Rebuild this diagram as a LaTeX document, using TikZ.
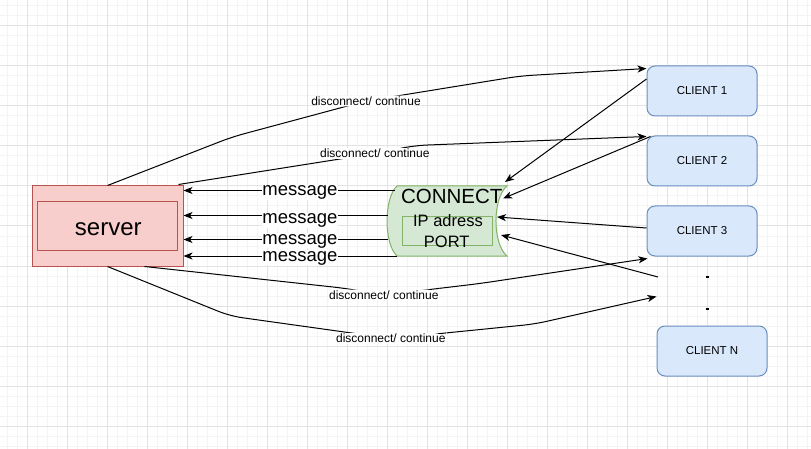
\documentclass[tikz,border=0pt]{standalone}
\usepackage{fontspec}
\setmainfont{Liberation Sans}
\usetikzlibrary{arrows.meta,calc}
\definecolor{gridminor}{HTML}{F4F4F4}
\definecolor{gridmajor}{HTML}{E3E3E3}
\definecolor{redfill}{HTML}{F8CECC}
\definecolor{redline}{HTML}{B85450}
\definecolor{greenfill}{HTML}{D5E8D4}
\definecolor{greenline}{HTML}{82B366}
\definecolor{bluefill}{HTML}{DAE8FC}
\definecolor{blueline}{HTML}{6C8EBF}
\begin{document}
\begin{tikzpicture}[x=1pt,y=-1pt,
  arr/.style={draw=black, line width=1pt, -{Stealth[length=9pt,width=7pt,inset=2.5pt]}},
  curvearr/.style={arr, rounded corners=12pt},
  clientbox/.style={draw=blueline, fill=bluefill, line width=1pt, rounded corners=8pt,
    minimum width=110pt, minimum height=50pt, inner sep=0pt, font=\fontsize{11.5}{13}\selectfont},
  msglabel/.style={fill=white, inner sep=0.6pt, anchor=base, font=\fontsize{18.5}{20}\selectfont},
  edgelabel/.style={fill=white, inner sep=1pt, font=\fontsize{12}{14}\selectfont},
  gridminorline/.style={draw=gridminor, line width=1pt},
  gridmajorline/.style={draw=gridmajor, line width=1pt},
]
\useasboundingbox (0,0) rectangle (811,449);
\fill[white] (0,0) rectangle (811,449);
% grid
\foreach \x in {7,17,...,807} \draw[gridminorline] (\x,0) -- (\x,449);
\foreach \y in {6,16,...,446} \draw[gridminorline] (0,\y) -- (811,\y);
\foreach \x in {27,67,...,787} \draw[gridmajorline] (\x,0) -- (\x,449);
\foreach \y in {26,66,...,426} \draw[gridmajorline] (0,\y) -- (811,\y);

% server
\node[draw=redline, fill=redfill, line width=1pt, minimum width=151pt, minimum height=80pt, inner sep=0pt] (server) at (107.5,226) {};
\node[draw=redline, line width=1pt, minimum width=140pt, minimum height=49pt, inner sep=0pt] (serverinner) at (107.3,226.3) {};
\node[anchor=base, inner sep=0pt, font=\fontsize{24}{28}\selectfont] (servertext) at (108.3,236) {server};

% connect shape
\node[minimum width=120pt, minimum height=70pt, inner sep=0pt] (connect) at (447,221) {};
\draw[draw=greenline, fill=greenfill, line width=1pt]
  (397,186) -- (507,186) .. controls (492.3,198) and (492.3,244) .. (507,256)
  -- (397,256) .. controls (383.7,244) and (383.7,198) .. (397,186) -- cycle;
\node[draw=greenline, line width=1pt, minimum width=90.4pt, minimum height=29.3pt, inner sep=0pt] (connectinner) at (447.5,231.3) {};
\node[anchor=base, inner sep=0pt, font=\fontsize{20.5}{24}\selectfont] (connecttext) at (451.7,204) {CONNECT};
\node[anchor=base, inner sep=0pt, font=\fontsize{16.5}{20}\selectfont] (iptext) at (448,226.7) {IP adress};
\node[anchor=base, inner sep=0pt, font=\fontsize{16.5}{20}\selectfont] (porttext) at (446.7,247.7) {PORT};

% clients
\node[clientbox] (c1) at (702,91) {CLIENT 1};
\node[clientbox] (c2) at (702,161) {CLIENT 2};
\node[clientbox] (c3) at (702,231) {CLIENT 3};
\node[clientbox] (cn) at (712,351) {CLIENT N};
\fill (706.3,275.8) rectangle +(2.6,2.6);
\fill (706.3,307.8) rectangle +(2.6,2.6);
\coordinate (dotsA) at (658,277);
\coordinate (dotsB) at (656.5,296.5);

% message arrows
\coordinate (m1) at ($(connect.west)+(8,-30.5)$);
\coordinate (m2) at ($(connect.west)+(1,-5.5)$);
\coordinate (m3) at ($(connect.west)+(1,18.5)$);
\coordinate (m4) at ($(connect.west)+(10,35)$);
\draw[arr] (m1) -- (server.east |- m1);
\draw[arr] (m2) -- (server.east |- m2);
\draw[arr] (m3) -- (server.east |- m3);
\draw[arr] (m4) -- (server.east |- m4);
\node[msglabel] (ml1) at (300,195.7) {message};
\node[msglabel] (ml2) at (300,223.3) {message};
\node[msglabel] (ml3) at (300,244) {message};
\node[msglabel] (ml4) at (300,261) {message};

% server -> clients
\draw[curvearr] (server.north) -- (232,137) -- (366,101) node[edgelabel] {disconnect/ continue}
  -- (520,76) -- ($(c1.north west)+(0,3)$);
\draw[curvearr] ($(server.north east)+(-5,-1)$) -- (374.8,153.5) node[edgelabel] {disconnect/ continue}
  -- (415,145.5) -- ($(c2.north west)+(0,1)$);
\draw[curvearr] ($(server.south)+(37,0)$) -- (345,288.3) -- (383.8,295) node[edgelabel] {disconnect/ continue}
  -- (480,283.5) -- ($(c3.south west)+(1,2)$);
\draw[curvearr] (server.south) -- (230,316) -- (390.8,338.5) node[edgelabel] {disconnect/ continue}
  -- (535,324) -- (dotsB);

% clients -> connect
\draw[arr] ($(c1.west)+(0,-12)$) -- ($(connect.center)+(58,-39)$);
\draw[arr] ($(c2.north west)+(4,1)$) -- ($(connect.center)+(56,-22.5)$);
\draw[arr] ($(c3.west)+(0,-3)$) -- ($(connect.center)+(50,-4)$);
\draw[arr] (dotsA) -- ($(connect.center)+(54,14)$);
\end{tikzpicture}
\end{document}
